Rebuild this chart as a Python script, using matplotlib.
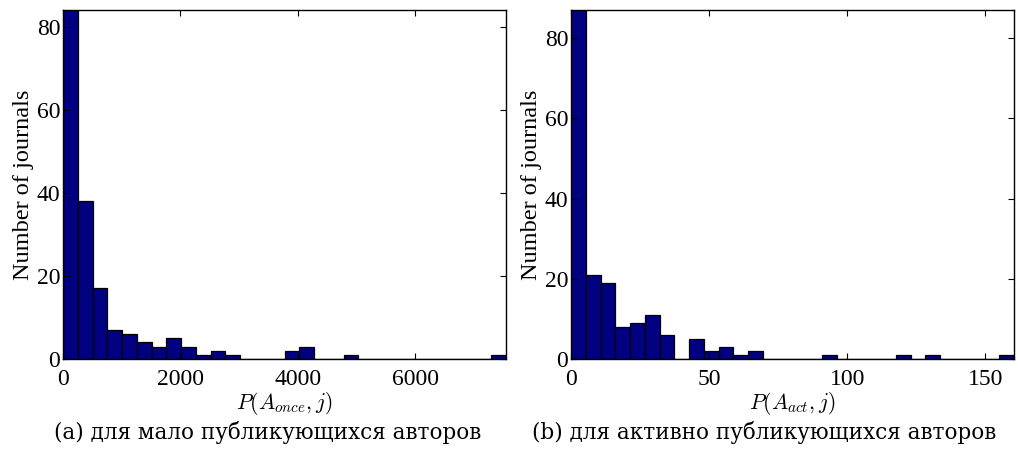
import numpy as np
import matplotlib
matplotlib.use("Agg")
import matplotlib.pyplot as plt

# ---- data (counts per histogram bin, 30 equal bins) ----
once_max = 7551.0
once_counts = [84, 38, 17, 7, 6, 4, 3, 5, 3, 1, 2, 1, 0, 0, 0,
               2, 3, 0, 0, 1, 0, 0, 0, 0, 0, 0, 0, 0, 0, 1]
act_max = 160.4
act_counts = [87, 21, 19, 8, 9, 11, 6, 0, 5, 2, 3, 1, 2, 0, 0,
              0, 0, 1, 0, 0, 0, 0, 1, 0, 1, 0, 0, 0, 0, 1]
once_xticks = [0, 2000, 4000, 6000]
act_xticks = [0, 50, 100, 150]
yticks = [0, 20, 40, 60, 80]
xlabels = [r"$P(A_{once}, j)$", r"$P(A_{act}, j)$"]
ylabel = "Number of journals"
captions = ["(a) для мало публикующихся авторов",
            "(b) для активно публикующихся авторов"]

plt.rcParams['mathtext.fontset'] = 'cm'
plt.rcParams['font.family'] = ['Liberation Serif', 'DejaVu Serif']

W, H = 1018, 450
fig = plt.figure(figsize=(W / 100, H / 100), dpi=100)

axes_px = [(63, 10, 506, 359), (571, 10, 1014, 359)]
panels = [(once_counts, once_max, once_xticks), (act_counts, act_max, act_xticks)]
cap_x = [268, 764]

for i, ((x0, y0, x1, y1), (counts, vmax, xt)) in enumerate(zip(axes_px, panels)):
    ax = fig.add_axes([x0 / W, 1 - y1 / H, (x1 - x0) / W, (y1 - y0) / H])
    edges = np.linspace(0, vmax, len(counts) + 1)
    ax.bar(edges[:-1], counts, width=np.diff(edges), align='edge',
           color='#000080', edgecolor='black', linewidth=0.9)
    ax.set_xlim(0, vmax)
    ax.set_ylim(0, max(counts))
    ax.set_xticks(xt)
    ax.set_yticks(yticks)
    ax.tick_params(direction='in', top=True, right=True, length=4,
                   width=0.8, labelsize=17)
    ax.tick_params(axis='x', pad=7)
    ax.tick_params(axis='y', pad=2)
    for s in ax.spines.values():
        s.set_linewidth(1.0)
    ax.set_ylabel(ylabel, fontsize=17.5, labelpad=2)
    ax.set_xlabel(xlabels[i], fontsize=15.5, labelpad=0)
    fig.text(cap_x[i] / W, 1 - 433 / H, captions[i], ha='center', va='center',
             fontsize=15.5, family='DejaVu Serif')

fig.savefig("out.png", dpi=100)
